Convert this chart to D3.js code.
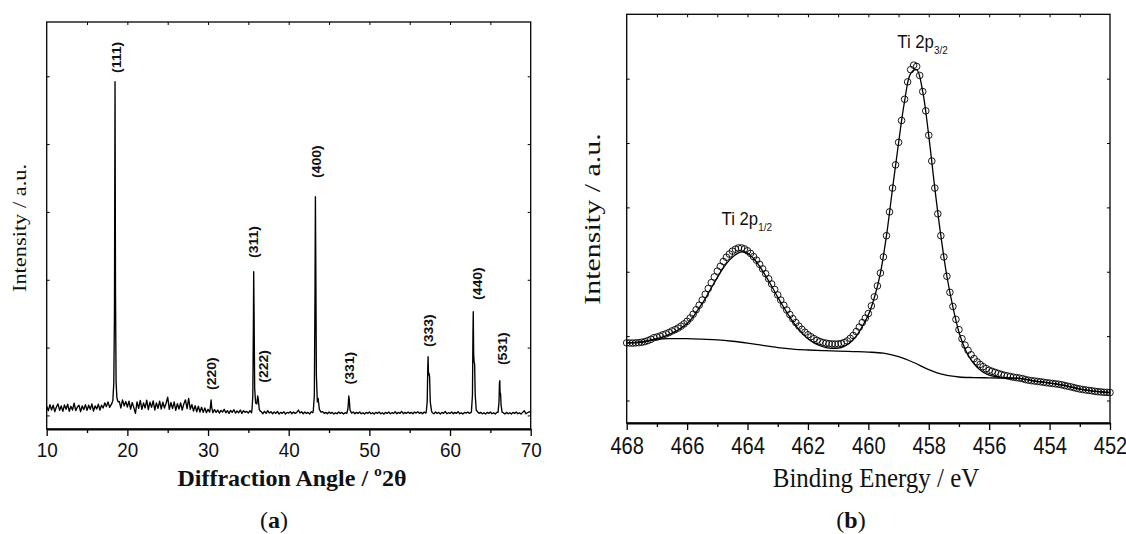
<!DOCTYPE html>
<html>
<head>
<meta charset="utf-8">
<script src="https://cdn.jsdelivr.net/npm/d3@7"></script>
<style>
  html, body { margin: 0; padding: 0; background: #fff; }
  svg { display: block; }
</style>
</head>
<body>
<svg id="fig" width="1126" height="534"></svg>
<script>
// ---------- (a) XRD pattern ----------
// Background counts on a regular 0.2° grid, 10° … 70°
const xrdStart = 10, xrdStep = 0.2;
const xrdBaseline = [
  135, 70, 160, 80, 150, 55, 125, 170, 75, 140, 60, 155, 90, 165, 60, 135, 80, 180, 70, 125, 150, 55, 140, 85, 160,
  75, 150, 90, 170, 65, 140, 95, 165, 80, 150, 110, 185, 130, 200, 120, 160, 200, 240, 260, 200, 205, 110, 230, 140, 205,
  125, 210, 95, 190, 115, 30, 200, 105, 220, 90, 185, 110, 225, 85, 195, 120, 215, 80, 185, 105, 210, 95, 195, 110, 180,
  270, 90, 190, 100, 200, 75, 175, 95, 185, 80, 170, 230, 100, 250, 90, 160, 65, 145, 55, 135, 50, 120, 45, 110, 40,
  90, 50, 60, 40, 85, 45, 80, 35, 75, 50, 90, 40, 70, 30, 75, 45, 85, 35, 65, 40, 80, 30, 70, 45, 60,
  35, 70, 40, 60, 60, 60, 60, 60, 55, 25, 60, 30, 70, 35, 55, 25, 50, 30, 60, 20, 45, 30, 55, 20, 45,
  35, 55, 25, 50, 30, 45, 80, 35, 55, 25, 50, 30, 45, 20, 55, 40, 60, 60, 60, 60, 60, 55, 30, 45, 25,
  50, 30, 45, 20, 40, 25, 50, 30, 45, 20, 40, 30, 60, 60, 35, 50, 25, 45, 30, 50, 25, 40, 20, 45, 30,
  50, 25, 40, 20, 45, 30, 50, 25, 40, 20, 45, 30, 50, 25, 40, 30, 55, 25, 45, 30, 60, 25, 45, 30, 50,
  30, 45, 25, 50, 35, 55, 30, 45, 25, 50, 35, 60, 60, 60, 40, 25, 50, 30, 45, 20, 45, 30, 60, 25, 40,
  30, 50, 25, 45, 30, 55, 25, 40, 20, 45, 35, 50, 30, 45, 60, 60, 60, 55, 30, 45, 25, 40, 20, 45, 30,
  50, 25, 40, 20, 45, 60, 60, 60, 40, 20, 45, 25, 40, 20, 45, 30, 50, 25, 40, 20, 45, 70, 25, 40, 55,
  45
];
// Reflections, sampled as [2θ, counts] across each line
const peak111 = [[18.05, 170], [18.2, 220], [18.32, 480], [18.4, 1500], [18.47, 4920], [18.53, 1800], [18.6, 500], [18.7, 260], [18.85, 200]];
const peak220 = [[30.25, 80], [30.33, 170], [30.38, 227], [30.45, 120], [30.55, 70]];
const peak311 = [[35.45, 90], [35.55, 280], [35.62, 1300], [35.66, 2119], [35.71, 1500], [35.78, 400], [35.9, 180], [36.05, 170], [36.15, 287], [36.22, 250], [36.35, 90], [36.5, 60]];
const peak400 = [[43.05, 70], [43.18, 300], [43.26, 1800], [43.31, 3225], [43.36, 2200], [43.43, 600], [43.55, 200], [43.65, 250], [43.8, 90], [44.0, 50]];
const peak331 = [[47.25, 50], [47.36, 120], [47.45, 287], [47.52, 220], [47.6, 80], [47.75, 45]];
const peak333 = [[57.05, 50], [57.17, 200], [57.24, 700], [57.28, 866], [57.33, 600], [57.4, 620], [57.47, 560], [57.55, 200], [57.7, 70]];
const peak440 = [[62.65, 50], [62.78, 300], [62.84, 1200], [62.88, 1529], [62.93, 900], [62.99, 780], [63.05, 760], [63.12, 300], [63.25, 80]];
const peak531 = [[65.95, 45], [66.07, 200], [66.13, 480], [66.17, 512], [66.21, 300], [66.26, 330], [66.33, 150], [66.45, 50]];
const xrdPeaks = [peak111, peak220, peak311, peak400, peak331, peak333, peak440, peak531];

// Miller-index annotations (2θ and intensity level at the foot of each label)
const hklLabels = ["(111)", "(220)", "(311)", "(222)", "(400)", "(331)", "(333)", "(440)", "(531)"];
const hklAngle  = [18.6, 30.37, 35.66, 36.85, 43.38, 47.47, 57.3, 63.38, 66.48];
const hklLevel  = [5048, 375, 2321, 483, 3500, 456, 1009, 1702, 743];

const xrdMajorTicks = [10, 20, 30, 40, 50, 60, 70];
const xrdMinorTicks = [15, 25, 35, 45, 55, 65];
const xrdTopTicks = [15, 20, 25, 30, 35, 40, 45, 50, 55, 60, 65];
const xrdIntensityTicks = [0, 1000, 2000, 3000, 4000, 5000];

// ---------- (b) XPS Ti 2p ----------
// Measured counts, 0.1 eV steps from 468.0 to 452.0 eV
const beStart = 468.0, beStep = 0.1;
const xpsCounts = [
  895, 893, 892, 895, 898, 905, 915, 930, 950, 975,
  985, 1000, 1020, 1035, 1055, 1080, 1100, 1125, 1155, 1190,
  1230, 1280, 1340, 1410, 1480, 1560, 1650, 1740, 1830, 1920,
  2010, 2085, 2160, 2225, 2275, 2320, 2350, 2370, 2370, 2355,
  2325, 2285, 2235, 2180, 2115, 2045, 1970, 1890, 1810, 1725,
  1640, 1560, 1480, 1405, 1335, 1270, 1210, 1155, 1105, 1060,
  1020, 990, 960, 935, 915, 900, 890, 882, 878, 876,
  878, 885, 900, 925, 965, 1010, 1070, 1140, 1210, 1280,
  1350, 1470, 1610, 1780, 1980, 2230, 2560, 2930, 3300, 3660,
  4010, 4350, 4680, 4950, 5140, 5210, 5190, 5050, 4800, 4500,
  4120, 3720, 3300, 2900, 2560, 2230, 1930, 1680, 1460, 1260,
  1100, 960, 860, 780, 710, 650, 600, 560, 525, 495,
  470, 452, 436, 420, 405, 392, 382, 372, 362, 355,
  348, 340, 325, 315, 308, 302, 296, 290, 283, 276,
  270, 264, 258, 252, 244, 232, 222, 212, 200, 188,
  178, 170, 163, 156, 150, 142, 136, 132, 128, 126,
  124
];
// Peak-fit envelope, 0.2 eV steps
const fitStep = 0.2;
const xpsFit = [
  895, 895, 900, 912, 935,
  960, 990, 1025, 1070, 1125,
  1195, 1300, 1440, 1580, 1750,
  1910, 2060, 2180, 2265, 2310,
  2285, 2205, 2085, 1935, 1775,
  1605, 1445, 1295, 1160, 1050,
  960, 895, 850, 822, 810,
  812, 840, 900, 1000, 1150,
  1330, 1600, 1980, 2560, 3290,
  4000, 4650, 5080, 5140, 4800,
  4110, 3300, 2560, 1930, 1450,
  1060, 800, 630, 515, 440,
  395, 370, 358, 352, 348,
  342, 328, 310, 296, 283,
  270, 258, 244, 222, 200,
  178, 163, 150, 136, 128,
  124
];
// Shirley background, 0.5 eV steps
const bgStep = 0.5;
const xpsBackground = [
  895, 915, 955, 962, 960, 952, 942, 920, 890, 855, 822, 798, 784, 774, 767, 760,
  752, 735, 680, 590, 480, 400, 365, 356, 352, 348, 342, 302, 270, 232, 178, 142, 124
];
const beMajorTicks = [468, 466, 464, 462, 460, 458, 456, 454, 452];
const beMinorTicks = [467, 465, 463, 461, 459, 457, 455, 453];
const beTopTicks = d3.range(467, 452, -1);
const xpsIntensityTicks = [0, 1000, 2000, 3000, 4000, 5000];

// Peak names: [main text, subscript, energy, intensity at baseline]
const tiLabels = [["Ti 2p", "1/2", 464.86, 2726], ["Ti 2p", "3/2", 459.04, 5484]];

// ---------- drawing ----------
const SANS = "'Liberation Sans', Arial, Helvetica, sans-serif";
const SERIF = "'Liberation Serif', 'Times New Roman', Times, serif";
const svg = d3.select("#fig");

function frame(g, x0, x1, y0, y1) {
  g.append("rect").attr("x", x0).attr("y", y0).attr("width", x1 - x0).attr("height", y1 - y0)
    .attr("fill", "none").attr("stroke", "#000").attr("stroke-width", 1.3);
}
function innerTicks(g, axis, tr) {
  const a = g.append("g").attr("transform", tr).call(axis);
  a.select(".domain").remove();
  a.selectAll("line").attr("stroke", "#000").attr("stroke-width", 1);
  return a;
}

// ---- panel (a)
const ax = { x0: 46.7, x1: 530.7, y0: 22, y1: 429 };
const xA = d3.scaleLinear().domain([10, 70]).range([ax.x0, ax.x1]);
const yA = d3.scaleLinear().domain([-200, 5800]).range([ax.y1, ax.y0]);
const gA = svg.append("g");

const windows = xrdPeaks.map(p => [p[0][0], p[p.length - 1][0]]);
const basePts = xrdBaseline.map((v, i) => [+(xrdStart + i * xrdStep).toFixed(2), v])
  .filter(([a]) => !windows.some(([lo, hi]) => a >= lo - 1e-9 && a <= hi + 1e-9));
const xrd = basePts.concat(...xrdPeaks).sort((p, q) => p[0] - q[0]);

gA.append("path").datum(xrd)
  .attr("d", d3.line().x(d => xA(d[0])).y(d => yA(d[1])))
  .attr("fill", "none").attr("stroke", "#000").attr("stroke-width", 1.35).attr("stroke-linejoin", "round");

frame(gA, ax.x0, ax.x1, ax.y0, ax.y1);
innerTicks(gA, d3.axisLeft(yA).tickValues(xrdIntensityTicks).tickSize(-3).tickFormat(""), `translate(${ax.x0},0)`);
innerTicks(gA, d3.axisRight(yA).tickValues(xrdIntensityTicks).tickSize(-3).tickFormat(""), `translate(${ax.x1},0)`);
innerTicks(gA, d3.axisTop(xA).tickValues(xrdTopTicks).tickSize(-3).tickFormat(""), `translate(0,${ax.y0})`);

const botA = gA.append("g").attr("transform", `translate(0,${ax.y1})`)
  .call(d3.axisBottom(xA).tickValues(xrdMajorTicks).tickSize(7).tickSizeOuter(0).tickPadding(6));
botA.select(".domain").attr("stroke-width", 1.8);
botA.selectAll("line").attr("stroke-width", 1.3);
botA.selectAll("text").attr("font-family", SANS).attr("font-size", 21).attr("fill", "#111")
  .attr("transform", "scale(0.9,1)");
const minA = gA.append("g").attr("transform", `translate(0,${ax.y1})`)
  .call(d3.axisBottom(xA).tickValues(xrdMinorTicks).tickSize(4).tickFormat(""));
minA.select(".domain").remove();
minA.selectAll("line").attr("stroke-width", 1.3);

gA.selectAll("text.hkl").data(hklLabels).join("text").attr("class", "hkl")
  .attr("transform", (d, i) => `translate(${xA(hklAngle[i])},${yA(hklLevel[i])}) scale(0.95,1) rotate(-90)`)
  .attr("dy", "0.35em").attr("text-anchor", "start")
  .attr("font-family", SANS).attr("font-weight", "bold").attr("font-size", 14).attr("fill", "#111")
  .text(d => d);

gA.append("text").attr("transform", "translate(25.7,228) scale(0.87,1) rotate(-90)")
  .attr("text-anchor", "middle").attr("font-family", SERIF).attr("font-size", 22.4).attr("fill", "#111")
  .text("Intensity / a.u.");
gA.append("text").attr("transform", "translate(292,486)")
  .attr("text-anchor", "middle").attr("font-family", SERIF).attr("font-weight", "bold").attr("font-size", 24).attr("fill", "#111")
  .text("Diffraction Angle / \u00BA2\u03B8");

// ---- panel (b)
const bx = { x0: 626.7, x1: 1110, y0: 14.3, y1: 423 };
const xB = d3.scaleLinear().domain([468, 452]).range([bx.x0, bx.x1]);
const yB = d3.scaleLinear().domain([-350, 6000]).range([bx.y1, bx.y0]);
const gB = svg.append("g");

const meas = xpsCounts.map((v, i) => [beStart - i * beStep, v]);
const fit = xpsFit.map((v, i) => [beStart - i * fitStep, v]);
const bg = xpsBackground.map((v, i) => [beStart - i * bgStep, v]);
const smooth = d3.line().x(d => xB(d[0])).y(d => yB(d[1])).curve(d3.curveCatmullRom.alpha(0.5));

gB.append("path").datum(bg).attr("d", smooth)
  .attr("fill", "none").attr("stroke", "#000").attr("stroke-width", 1.3);
gB.append("path").datum(fit).attr("d", smooth)
  .attr("fill", "none").attr("stroke", "#000").attr("stroke-width", 1.3);
gB.selectAll("circle.pt").data(meas).join("circle").attr("class", "pt")
  .attr("cx", d => xB(d[0])).attr("cy", d => yB(d[1])).attr("r", 3.3)
  .attr("fill", "none").attr("stroke", "#000").attr("stroke-width", 0.9);

frame(gB, bx.x0, bx.x1, bx.y0, bx.y1);
innerTicks(gB, d3.axisLeft(yB).tickValues(xpsIntensityTicks).tickSize(-3).tickFormat(""), `translate(${bx.x0},0)`);
innerTicks(gB, d3.axisRight(yB).tickValues(xpsIntensityTicks).tickSize(-3).tickFormat(""), `translate(${bx.x1},0)`);
innerTicks(gB, d3.axisTop(xB).tickValues(beTopTicks).tickSize(-3).tickFormat(""), `translate(0,${bx.y0})`);

const botB = gB.append("g").attr("transform", `translate(0,${bx.y1})`)
  .call(d3.axisBottom(xB).tickValues(beMajorTicks).tickSize(7).tickSizeOuter(0).tickPadding(7));
botB.select(".domain").attr("stroke-width", 1.8);
botB.selectAll("line").attr("stroke-width", 1.3);
botB.selectAll("text").attr("font-family", SANS).attr("font-size", 24).attr("fill", "#111")
  .attr("transform", "scale(0.84,1)");
const minB = gB.append("g").attr("transform", `translate(0,${bx.y1})`)
  .call(d3.axisBottom(xB).tickValues(beMinorTicks).tickSize(4).tickFormat(""));
minB.select(".domain").remove();
minB.selectAll("line").attr("stroke-width", 1.3);

tiLabels.forEach(([main, sub, e, v]) => {
  const t = gB.append("text").attr("transform", `translate(${xB(e)},${yB(v)}) scale(0.9,1)`)
    .attr("font-family", SANS).attr("fill", "#111");
  t.append("tspan").attr("font-size", 18.6).text(main);
  t.append("tspan").attr("font-size", 11).attr("dy", 6).text(sub);
});

gB.append("text").attr("transform", "translate(599.7,219) scale(0.8,1) rotate(-90)")
  .attr("text-anchor", "middle").attr("font-family", SERIF).attr("font-size", 30).attr("fill", "#111")
  .text("Intensity / a.u.");
gB.append("text").attr("transform", "translate(876,487) scale(0.89,1)")
  .attr("text-anchor", "middle").attr("font-family", SERIF).attr("font-size", 28).attr("fill", "#111")
  .text("Binding Energy / eV");

// ---- sub-figure captions
[["a", 274], ["b", 851]].forEach(([letter, cx]) => {
  const t = svg.append("text").attr("x", cx).attr("y", 528).attr("text-anchor", "middle")
    .attr("font-family", SERIF).attr("font-size", 24).attr("fill", "#111");
  t.append("tspan").text("(");
  t.append("tspan").attr("font-weight", "bold").text(letter);
  t.append("tspan").text(")");
});
</script>
</body>
</html>
